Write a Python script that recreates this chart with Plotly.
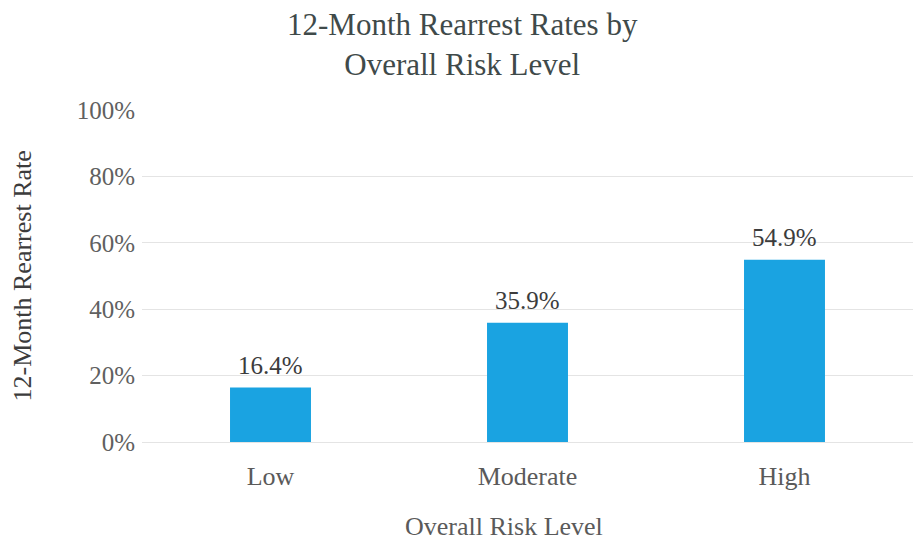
import plotly.graph_objects as go

# Rearrest rates by overall risk level
risk_levels = ["Low", "Moderate", "High"]
rearrest_rates = [0.164, 0.359, 0.549]
y_ticks = [0, 0.2, 0.4, 0.6, 0.8, 1.0]
y_tick_labels = ["0%", "20%", "40%", "60%", "80%", "100%"]

serif = "Liberation Serif, Times New Roman, serif"
bar_color = "#1aa3e1"

fig = go.Figure(
    go.Bar(
        x=risk_levels,
        y=rearrest_rates,
        marker=dict(color=bar_color, line=dict(width=0)),
        hoverinfo="skip",
    )
)

# value labels above each bar
for lvl, val in zip(risk_levels, rearrest_rates):
    fig.add_annotation(
        x=lvl, y=val, xref="x", yref="y",
        text=f"{val * 100:.1f}%",
        showarrow=False, yanchor="bottom", yshift=7,
        font=dict(family=serif, size=25, color="#3c3c3c"),
    )

# chart title
fig.add_annotation(
    x=0.416, y=1.315, xref="paper", yref="paper",
    text="12-Month Rearrest Rates by<br>Overall Risk Level",
    showarrow=False, xanchor="center", yanchor="top", align="center",
    font=dict(family=serif, size=31, color="#3f4a4a"),
)

# axis titles
fig.add_annotation(
    x=-0.155, y=0.5, xref="paper", yref="paper",
    text="12-Month Rearrest Rate", textangle=-90,
    showarrow=False, xanchor="center", yanchor="middle",
    font=dict(family=serif, size=26, color="#3c3c3c"),
)
fig.add_annotation(
    x=0.47, y=-0.255, xref="paper", yref="paper",
    text="Overall Risk Level",
    showarrow=False, xanchor="center", yanchor="middle",
    font=dict(family=serif, size=26, color="#5a5a5a"),
)

fig.update_layout(
    width=913, height=544,
    margin=dict(l=142, r=0, t=110, b=102),
    paper_bgcolor="white", plot_bgcolor="white",
    bargap=0.685,
    showlegend=False,
    xaxis=dict(
        showgrid=False, showline=False, zeroline=False,
        ticks="", ticklabelstandoff=16,
        tickfont=dict(family=serif, size=26, color="#5a5a5a"),
    ),
    yaxis=dict(
        range=[0, 1.0],
        tickvals=y_ticks, ticktext=y_tick_labels,
        showgrid=True, gridcolor="#e4e4e4", gridwidth=1,
        zeroline=True, zerolinecolor="#e4e4e4", zerolinewidth=1,
        showline=False, ticks="", ticklabelstandoff=6,
        tickfont=dict(family=serif, size=25, color="#606060"),
    ),
)

fig.write_html("out.html")
